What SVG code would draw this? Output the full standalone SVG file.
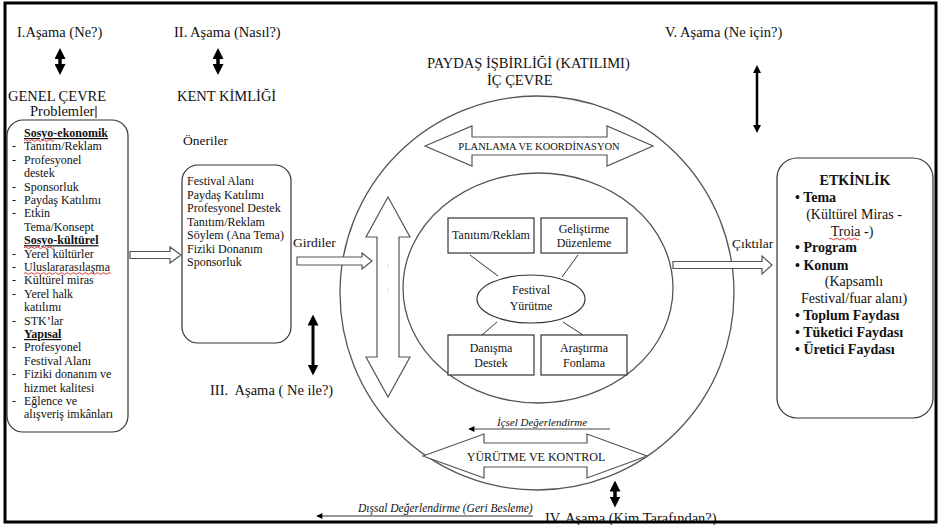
<svg xmlns="http://www.w3.org/2000/svg" width="940" height="525" viewBox="0 0 940 525" font-family="'Liberation Serif', 'DejaVu Serif', serif">
<defs>
<style>
text{font-family:'Liberation Serif','DejaVu Serif',serif}
.t{fill:#111}
.f14{font-size:14.5px}
.f12{font-size:12px}
.b{font-weight:bold}
.i{font-style:italic}
.m{text-anchor:middle}
.box{fill:#fff;stroke:#333;stroke-width:1.2}
.circ{fill:none;stroke:#555;stroke-width:1.3}
.ha{fill:#fff;stroke:#555;stroke-width:1.2}
.thick{stroke:#000;fill:none}
.wave{fill:none;stroke:#d22;stroke-width:0.9}
.ln{stroke:#333;stroke-width:1;fill:none}
</style>
<marker id="hb" viewBox="0 0 10 10" refX="5" refY="5" markerWidth="11" markerHeight="11" markerUnits="userSpaceOnUse" orient="auto-start-reverse"><path d="M0,0 L10,5 L0,10 z" fill="#000"/></marker>
<marker id="hs" viewBox="0 0 10 10" refX="5" refY="5" markerWidth="8" markerHeight="8" markerUnits="userSpaceOnUse" orient="auto-start-reverse"><path d="M0,0 L10,5 L0,10 z" fill="#000"/></marker>
<marker id="hl" viewBox="0 0 10 10" refX="9" refY="5" markerWidth="7" markerHeight="6" markerUnits="userSpaceOnUse" orient="auto"><path d="M0,0 L10,5 L0,10 z" fill="#000"/></marker>
</defs>
<rect width="940" height="525" fill="#fff"/>

<g id="stage1">
<text class="t f14" x="17" y="37">I.Aşama (Ne?)</text>
<line class="thick" x1="60" y1="53.5" x2="60" y2="69.5" stroke-width="3.5" marker-start="url(#hb)" marker-end="url(#hb)"/>
<text class="t f14" x="8" y="101">GENEL ÇEVRE</text>
<text class="t f14" x="30" y="116">Problemler</text>
<line x1="96" y1="106" x2="96" y2="118" stroke="#000" stroke-width="1"/>
</g>
<g id="stage2">
<text class="t f14" x="174" y="37">II. Aşama (Nasıl?)</text>
<line class="thick" x1="218" y1="53.5" x2="218" y2="69.5" stroke-width="3.5" marker-start="url(#hb)" marker-end="url(#hb)"/>
<text class="t f14" x="177" y="101">KENT KİMLİĞİ</text>
</g>
<g id="stage3">
<line class="thick" x1="313" y1="320" x2="313" y2="370" stroke-width="3" marker-start="url(#hb)" marker-end="url(#hb)"/>
<text class="t f14" x="210" y="395" xml:space="preserve">III.  Aşama ( Ne ile?)</text>
</g>
<g id="stage5">
<text class="t f14" x="665" y="37">V. Aşama (Ne için?)</text>
<line class="thick" x1="757" y1="69" x2="757" y2="129" stroke-width="2.5" marker-start="url(#hs)" marker-end="url(#hs)"/>
</g>
<g id="stage4">
<line class="thick" x1="615" y1="486" x2="615" y2="502" stroke-width="3.5" marker-start="url(#hb)" marker-end="url(#hb)"/>
<text class="t f14" x="545" y="523">IV. Aşama (Kim Tarafından?)</text>
</g>

<g id="problems">
<rect class="box" x="7" y="120" width="121" height="312" rx="16"/>
<g class="t f12">
<text class="b" x="24" y="137" text-decoration="underline">Sosyo-ekonomik</text>
<text x="12" y="150.4">-</text><text x="24" y="150.4">Tanıtım/Reklam</text>
<text x="12" y="163.8">-</text><text x="24" y="163.8">Profesyonel</text>
<text x="24" y="177.2">destek</text>
<text x="12" y="190.6">-</text><text x="24" y="190.6">Sponsorluk</text>
<text x="12" y="204">-</text><text x="24" y="204">Paydaş Katılımı</text>
<text x="12" y="217.4">-</text><text x="24" y="217.4">Etkin</text>
<text x="24" y="230.8">Tema/Konsept</text>
<text class="b" x="24" y="244.2" text-decoration="underline">Sosyo-kültürel</text>
<text x="12" y="257.6">-</text><text x="24" y="257.6">Yerel kültürler</text>
<text x="12" y="271">-</text><text x="24" y="271">Uluslararasılaşma</text>
<text x="12" y="284.4">-</text><text x="24" y="284.4">Kültürel miras</text>
<text x="12" y="297.8">-</text><text x="24" y="297.8">Yerel halk</text>
<text x="24" y="311.2">katılımı</text>
<text x="12" y="324.6">-</text><text x="24" y="324.6">STK’lar</text>
<text class="b" x="24" y="338" text-decoration="underline">Yapısal</text>
<text x="12" y="351.4">-</text><text x="24" y="351.4">Profesyonel</text>
<text x="24" y="364.8">Festival Alanı</text>
<text x="12" y="378.2">-</text><text x="24" y="378.2">Fiziki donanım ve</text>
<text x="24" y="391.6">hizmet kalitesi</text>
<text x="12" y="405">-</text><text x="24" y="405">Eğlence ve</text>
<text x="24" y="418.4">alışveriş imkânları</text>
</g>
<path class="wave" d="M24,140.5 q1.5,-1.6 3,0 t3,0 t3,0 t3,0 t3,0 t3,0 t3,0 t3,0 t3,0 t3,0"/>
<path class="wave" d="M24,247.7 q1.5,-1.6 3,0 t3,0 t3,0 t3,0 t3,0 t3,0 t3,0 t3,0 t3,0 t3,0"/>
<path class="wave" d="M24,273.5 q1.5,-1.6 3,0 t3,0 t3,0 t3,0 t3,0 t3,0 t3,0 t3,0 t3,0 t3,0 t3,0 t3,0 t3,0 t3,0 t3,0 t3,0 t3,0 t3,0 t3,0 t3,0 t3,0 t3,0 t3,0 t3,0 t3,0 t3,0 t3,0 t3,0 t3,0"/>
</g>

<g id="oneriler">
<text class="t" font-size="13.5" x="183" y="145">Öneriler</text>
<rect class="box" x="182" y="165" width="109" height="178" rx="16"/>
<g class="t f12">
<text x="187" y="185">Festival Alanı</text>
<text x="187" y="198.5">Paydaş Katılımı</text>
<text x="187" y="212">Profesyonel Destek</text>
<text x="187" y="225.5">Tanıtım/Reklam</text>
<text x="187" y="239">Söylem (Ana Tema)</text>
<text x="187" y="252.5">Fiziki Donanım</text>
<text x="187" y="266">Sponsorluk</text>
</g>
</g>

<g id="outer-circle">
<circle class="circ" cx="537" cy="293" r="197"/>
<text class="t f14" x="427" y="68">PAYDAŞ İŞBİRLİĞİ (KATILIMI)</text>
<text class="t f14" x="487" y="85">İÇ ÇEVRE</text>
</g>
<g id="inner-circle">
<ellipse class="circ" cx="538" cy="288" rx="135" ry="115"/>
</g>
<g id="planlama">
<polygon class="ha" points="425,146 472,126 472,137 607,137 607,126 653,146 607,166 607,155 472,155 472,166"/>
<text class="t m" font-size="10.5" x="539" y="150">PLANLAMA VE KOORDİNASYON</text>
</g>
<g id="vertical-arrow">
<polygon class="ha" points="388,197 410,237 399,237 399,357 410,357 388,397 366,357 377,357 377,237 366,237"/>
<text class="m" font-size="6" x="388" y="267" fill="#888">:</text>
<text class="m" font-size="6" x="388" y="292" fill="#888">:</text>
</g>
<g id="yurutme">
<polygon class="ha" points="423,456 484,434 484,443 587,443 587,434 647,456 587,478 587,467 484,467 484,478"/>
<text class="t m f12" x="536" y="461">YÜRÜTME VE KONTROL</text>
</g>

<g id="tanitim">
<rect class="box" x="448" y="218" width="86" height="35"/>
<text class="t m f12" x="491" y="239">Tanıtım/Reklam</text>
</g>
<g id="gelistirme">
<rect class="box" x="541" y="218" width="86" height="35"/>
<text class="t m f12" x="584" y="233">Geliştirme</text>
<text class="t m f12" x="584" y="247">Düzenleme</text>
</g>
<g id="festival">
<ellipse class="box" cx="531" cy="299" rx="54" ry="24"/>
<text class="t m f12" x="531" y="294">Festival</text>
<text class="t m f12" x="531" y="310">Yürütme</text>
</g>
<g id="danisma">
<rect class="box" x="448" y="335" width="86" height="40"/>
<text class="t m f12" x="491" y="352">Danışma</text>
<text class="t m f12" x="491" y="367">Destek</text>
</g>
<g id="arastirma">
<rect class="box" x="541" y="335" width="86" height="40"/>
<text class="t m f12" x="584" y="352">Araştırma</text>
<text class="t m f12" x="584" y="367">Fonlama</text>
</g>

<g id="etkinlik">
<rect class="box" x="777" y="158" width="156" height="260" rx="20"/>
<g class="t" font-size="14">
<text class="b m" x="855" y="185">ETKİNLİK</text>
<text class="b" x="795" y="202">• Tema</text>
<text class="m" x="854" y="219">(Kültürel Miras -</text>
<text class="m" x="852" y="236">Troia -)</text>
<text class="b" x="795" y="252">• Program</text>
<text class="b" x="795" y="270">• Konum</text>
<text class="m" x="854" y="286">(Kapsamlı</text>
<text class="m" x="854" y="303">Festival/fuar alanı)</text>
<text class="b" x="795" y="320">• Toplum Faydası</text>
<text class="b" x="795" y="337">• Tüketici Faydası</text>
<text class="b" x="795" y="354">• Üretici Faydası</text>
</g>
<path class="wave" d="M829,239 q1.5,-1.6 3,0 t3,0 t3,0 t3,0 t3,0 t3,0 t3,0 t3,0 t3,0 t3,0"/>
</g>

<g id="connectors">
<polygon class="ha" points="130,251.5 170,251.5 170,247 181,255 170,263 170,258.5 130,258.5"/>
<text class="t" font-size="13.5" x="293" y="247">Girdiler</text>
<polygon class="ha" points="297,257 362,257 362,253 372,261 362,269 362,265 297,265"/>
<text class="t" font-size="13.5" x="732" y="248">Çıktılar</text>
<polygon class="ha" points="673,261.5 762,261.5 762,256 772,265 762,274 762,268.5 673,268.5"/>
<line class="ln" x1="470" y1="255" x2="498" y2="276"/>
<line class="ln" x1="578" y1="255" x2="562" y2="277"/>
<line class="ln" x1="497" y1="322" x2="482" y2="335"/>
<line class="ln" x1="563" y1="322" x2="583" y2="335"/>
<text class="t i" font-size="11" x="497" y="426">İçsel Değerlendirme</text>
<line x1="610" y1="429" x2="469" y2="429" stroke="#444" stroke-width="1.1" marker-end="url(#hl)"/>
<text class="t i" font-size="11.5" x="358" y="512">Dışsal Değerlendirme (Geri Besleme)</text>
<line x1="533" y1="516" x2="317" y2="516" stroke="#333" stroke-width="1.1" marker-end="url(#hl)"/>
</g>

<rect x="5" y="3" width="931" height="519" fill="none" stroke="#000" stroke-width="3"/>
</svg>
